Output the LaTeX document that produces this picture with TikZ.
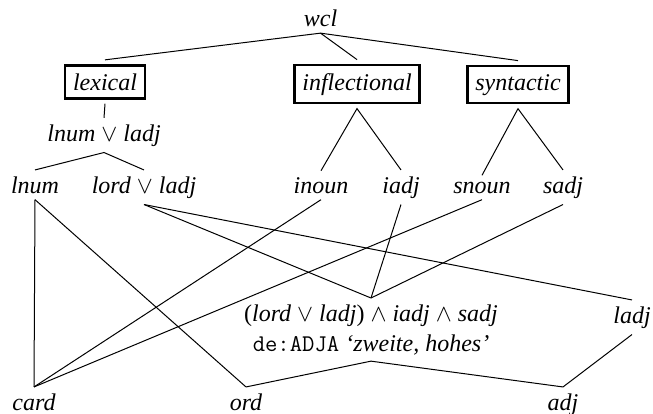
\documentclass[tikz,border=0pt]{standalone}
\usepackage{fontspec}
\setmainfont{Liberation Serif}
\begin{document}
\begin{tikzpicture}[x=0.5pt,y=-0.5pt,
  lbl/.style={font=\fontsize{12}{15}\selectfont\itshape, inner sep=3pt, anchor=base},
  boxed/.style={lbl, draw, line width=1.3pt, inner sep=4pt, outer sep=2.75pt},
  link/.style={line width=0.5pt}]
\useasboundingbox (0,0) rectangle (653,413);
% top
\node[lbl] (wcl) at (320.5,26.5) {wcl};
\node[boxed] (lexical) at (105,90) {lexical};
\node[boxed] (infl) at (357,90) {inflectional};
\node[boxed] (synt) at (518,90) {syntactic};
% second row
\node[lbl] (lnumladj) at (104,141) {lnum $\vee$ ladj};
% third row
\node[lbl] (lnum) at (35,193) {lnum};
\node[lbl] (lordladj) at (144,193) {lord $\vee$ ladj};
\node[lbl] (inoun) at (321,193) {inoun};
\node[lbl] (iadj) at (401,193) {iadj};
\node[lbl] (snoun) at (482,193) {snoun};
\node[lbl] (sadj) at (563,193) {sadj};
% lower
\node[lbl, anchor=north, align=center] (big) at (371,298)
  {\textup{(}lord $\vee$ ladj\textup{)} $\wedge$ iadj $\wedge$ sadj\\
   {\upshape\ttfamily de:ADJA} ‘zweite, hohes’};
\node[lbl] (ladj) at (632,323) {ladj};
% bottom
\node[lbl] (card) at (34,410) {card};
\node[lbl] (ord) at (246,410) {ord};
\node[lbl] (adj) at (563,410) {adj};
% connectors
\draw[link] (lexical.north) -- (wcl.south) -- (synt.north);
\draw[link] (wcl.south) -- (infl.north);
\draw[link] (lexical.south) -- (lnumladj.north);
\draw[link] (lnum.north) -- (lnumladj.south) -- (lordladj.north);
\draw[link] (inoun.north) -- (infl.south) -- (iadj.north);
\draw[link] (snoun.north) -- (synt.south) -- (sadj.north);
\draw[link] (lnum.south) -- (card.north);
\draw[link] (lnum.south) -- (ord.north);
\draw[link] (lordladj.south) -- (big.north);
\draw[link] (lordladj.south) -- (ladj.north);
\draw[link] (inoun.south) -- (card.north);
\draw[link] (snoun.south) -- (card.north);
\draw[link] (iadj.south) -- (big.north);
\draw[link] (sadj.south) -- (big.north);
\draw[link] (ord.north) -- (big.south) -- (adj.north);
\draw[link] (ladj.south) -- (adj.north);
\end{tikzpicture}
\end{document}
